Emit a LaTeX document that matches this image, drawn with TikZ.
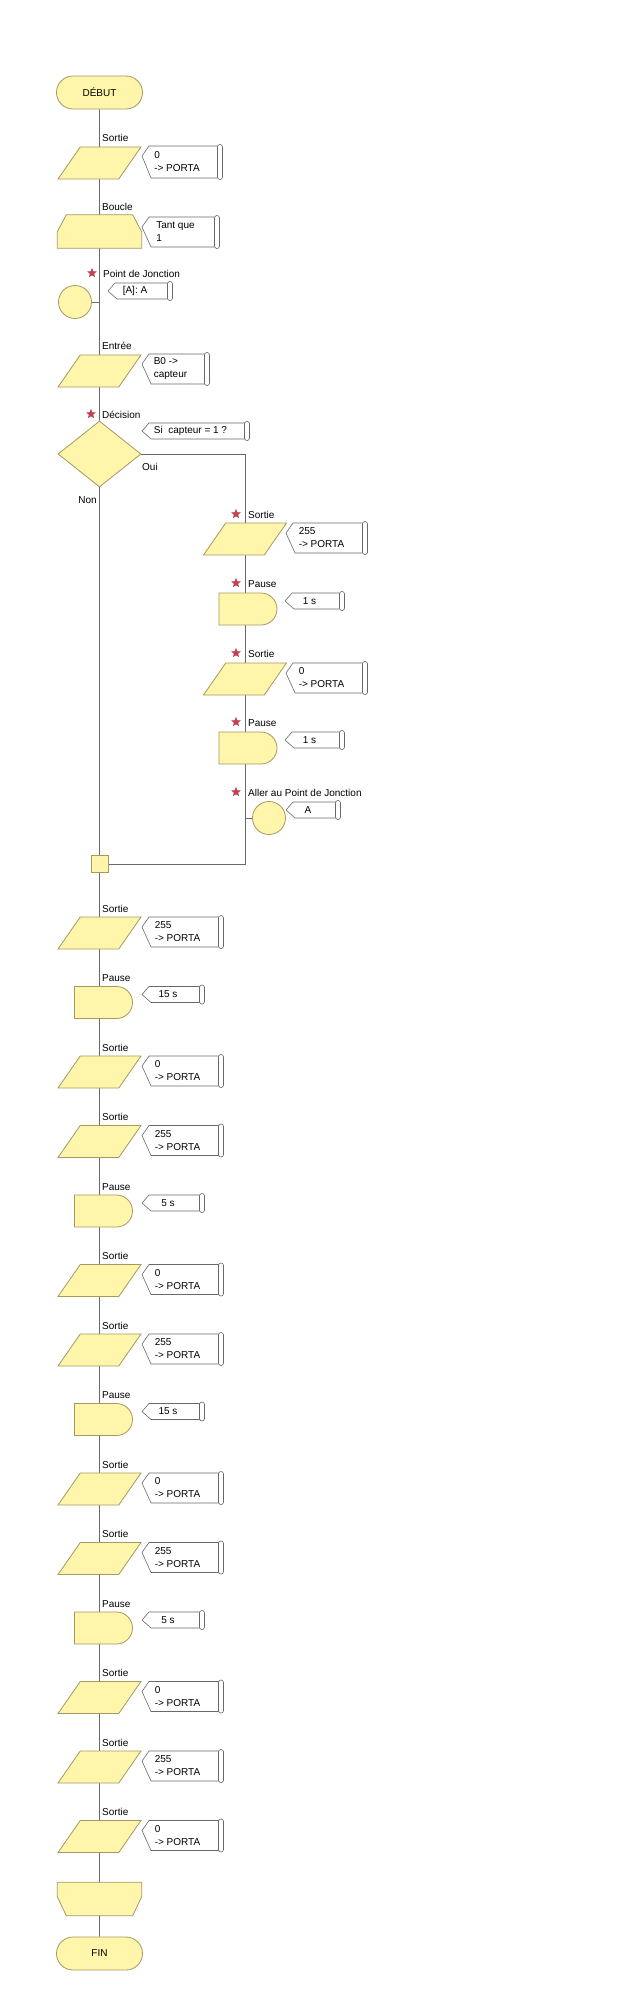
\documentclass[tikz,border=0pt]{standalone}
\usepackage{fontspec}
\setmainfont{Liberation Sans}
\usetikzlibrary{positioning, shapes.geometric, shapes.misc, backgrounds, calc}

\definecolor{boxfill}{RGB}{255,246,172}
\definecolor{boxedge}{RGB}{165,152,96}
\definecolor{flowline}{RGB}{105,105,105}
\definecolor{starred}{RGB}{205,62,78}

% commentaire a droite d'un bloc : nom, x pointe, y haut, largeur, hauteur, texte
\newcommand{\remark}[6]{%
  \node[remarktext] (#1) at (#2+#4/2-4,#3+#5/2) {#6};
  \draw[remarkline] (#2+#4,#3) -- (#2+7,#3) -- (#2,{#3+min(10,#5/2)}) -- (#2+9,#3+#5) -- (#2+#4,#3+#5);
  \draw[remarkline, fill=white, rounded corners=2.4pt] (#2+#4-2.5,#3-1.5) rectangle (#2+#4+2.5,#3+#5+1.5);
}

\begin{document}
\begin{tikzpicture}[x=1pt, y=-1pt, font=\fontsize{10}{13}\selectfont,
    flow/.style={draw=boxedge, fill=boxfill, line width=0.8pt, inner sep=0pt},
    terminal/.style={flow, rounded rectangle, minimum width=86pt, minimum height=33pt},
    io/.style={flow, inner sep=1pt, trapezium, trapezium left angle=60, trapezium right angle=120,
      trapezium stretches=true, minimum width=83pt, minimum height=32pt},
    loopslot/.style={rectangle, inner sep=0pt, minimum width=84pt, minimum height=33pt},
    junction/.style={flow, circle, minimum size=33pt},
    decision/.style={flow, diamond, minimum width=83pt, minimum height=66pt},
    pause/.style={flow, rounded rectangle, rounded rectangle left arc=none,
      minimum width=58pt, minimum height=32pt},
    merge/.style={flow, rectangle, minimum size=17pt},
    steplabel/.style={anchor=base west, inner sep=0pt},
    starmark/.style={star, star points=5, star point ratio=2.3, fill=starred,
      draw=starred!80!black, line width=0.3pt, minimum size=9pt, inner sep=0pt},
    remarktext/.style={align=left, inner sep=0pt},
    remarkline/.style={draw=flowline, line width=0.6pt},
    link/.style={draw=flowline, line width=0.8pt}]
    \useasboundingbox (0,0) rectangle (644,2000);

    % debut, boucle et jonction
    \node[terminal] (debut) at (99.5,92.5) {DÉBUT};
    \node[steplabel] (l-s0) at (102,141) {Sortie};
    \node[io] (s0) at (99.5,163) {};
    \remark{c-s0}{142}{146}{78}{32}{0\\-> PORTA}
    \node[steplabel] (l-loop) at (102,210) {Boucle};
    \node[loopslot] (loop) at (99.5,231.5) {};
    \draw[flow] (loop.south west) -- ($(loop.north west)+(0,17)$) -- ($(loop.north west)+(9,0)$)
        -- ($(loop.north east)+(-9,0)$) -- ($(loop.north east)+(0,17)$) -- (loop.south east) -- cycle;
    \remark{c-loop}{142}{217}{75}{30}{Tant que\\1}
    \node[starmark] (st-jonc) at (92,273) {};
    \node[steplabel] (l-jonc) at (103,277) {Point de Jonction};
    \node[junction] (jonc) at (75,302) {};
    \remark{c-jonc}{108}{283}{62}{16}{[A]: A}
    \node[steplabel] (l-entree) at (102,349) {Entrée};
    \node[io] (entree) at (99.5,371) {};
    \remark{c-entree}{142}{354}{65}{30}{B0 ->\\capteur}

    % decision
    \node[starmark] (st-test) at (91,414) {};
    \node[steplabel] (l-test) at (102,418) {Décision};
    \node[decision] (test) at (99.5,454) {};
    \remark{c-test}{142}{423}{105}{16}{Si\ \ capteur = 1 ?}
    \node[anchor=base west, inner sep=0pt] (oui) at (142,470) {Oui};
    \node[anchor=base east, inner sep=0pt] (non) at (97,503) {Non};

    % branche Oui
    \node[starmark] (st-r1) at (236,514) {};
    \node[steplabel] (l-r1) at (248,518) {Sortie};
    \node[io] (r1) at (245,539) {};
    \remark{c-r1}{286}{523}{79}{30}{255\\-> PORTA}
    \node[starmark] (st-r2) at (236,583) {};
    \node[steplabel] (l-r2) at (248,587) {Pause};
    \node[pause] (r2) at (248,609) {};
    \remark{c-r2}{285}{593}{57}{16}{1 s}
    \node[starmark] (st-r3) at (236,653) {};
    \node[steplabel] (l-r3) at (248,657) {Sortie};
    \node[io] (r3) at (245,679) {};
    \remark{c-r3}{286}{663}{79}{30}{0\\-> PORTA}
    \node[starmark] (st-r4) at (236,722) {};
    \node[steplabel] (l-r4) at (248,726) {Pause};
    \node[pause] (r4) at (248,748) {};
    \remark{c-r4}{285}{732}{57}{16}{1 s}
    \node[starmark] (st-aller) at (236,792) {};
    \node[steplabel] (l-aller) at (248,796) {Aller au Point de Jonction};
    \node[junction] (aller) at (269,818) {};
    \remark{c-aller}{286}{802}{52}{16}{A}
    \coordinate (retour) at (245,864);
    \node[merge] (fusion) at (99.5,864) {};

    % sequence principale
    \node[steplabel] (l-o1) at (102,912) {Sortie};
    \node[io] (o1) at (99.5,933) {};
    \remark{c-o1}{142}{917}{79}{30}{255\\-> PORTA}
    \node[steplabel] (l-o2) at (102,981.5) {Pause};
    \node[pause] (o2) at (103.5,1002.5) {};
    \remark{c-o2}{142}{986.5}{60}{16}{15 s}
    \node[steplabel] (l-o3) at (102,1051) {Sortie};
    \node[io] (o3) at (99.5,1072) {};
    \remark{c-o3}{142}{1056}{79}{30}{0\\-> PORTA}
    \node[steplabel] (l-o4) at (102,1120.5) {Sortie};
    \node[io] (o4) at (99.5,1141.5) {};
    \remark{c-o4}{142}{1125.5}{79}{30}{255\\-> PORTA}
    \node[steplabel] (l-o5) at (102,1190) {Pause};
    \node[pause] (o5) at (103.5,1211) {};
    \remark{c-o5}{142}{1195}{60}{16}{5 s}
    \node[steplabel] (l-o6) at (102,1259.5) {Sortie};
    \node[io] (o6) at (99.5,1280.5) {};
    \remark{c-o6}{142}{1264.5}{79}{30}{0\\-> PORTA}
    \node[steplabel] (l-o7) at (102,1329) {Sortie};
    \node[io] (o7) at (99.5,1350) {};
    \remark{c-o7}{142}{1334}{79}{30}{255\\-> PORTA}
    \node[steplabel] (l-o8) at (102,1398.5) {Pause};
    \node[pause] (o8) at (103.5,1419.5) {};
    \remark{c-o8}{142}{1403.5}{60}{16}{15 s}
    \node[steplabel] (l-o9) at (102,1468) {Sortie};
    \node[io] (o9) at (99.5,1489) {};
    \remark{c-o9}{142}{1473}{79}{30}{0\\-> PORTA}
    \node[steplabel] (l-o10) at (102,1537.5) {Sortie};
    \node[io] (o10) at (99.5,1558.5) {};
    \remark{c-o10}{142}{1542.5}{79}{30}{255\\-> PORTA}
    \node[steplabel] (l-o11) at (102,1607) {Pause};
    \node[pause] (o11) at (103.5,1628) {};
    \remark{c-o11}{142}{1612}{60}{16}{5 s}
    \node[steplabel] (l-o12) at (102,1676.5) {Sortie};
    \node[io] (o12) at (99.5,1697.5) {};
    \remark{c-o12}{142}{1681.5}{79}{30}{0\\-> PORTA}
    \node[steplabel] (l-o13) at (102,1746) {Sortie};
    \node[io] (o13) at (99.5,1767) {};
    \remark{c-o13}{142}{1751}{79}{30}{255\\-> PORTA}
    \node[steplabel] (l-o14) at (102,1815.5) {Sortie};
    \node[io] (o14) at (99.5,1836.5) {};
    \remark{c-o14}{142}{1820.5}{79}{30}{0\\-> PORTA}
    \node[loopslot] (finboucle) at (99.5,1899) {};
    \draw[flow] (finboucle.north west) -- ($(finboucle.south west)+(0,-19)$) -- ($(finboucle.south west)+(9,0)$)
        -- ($(finboucle.south east)+(-9,0)$) -- ($(finboucle.south east)+(0,-19)$) -- (finboucle.north east) -- cycle;
    \node[terminal] (fin) at (99.5,1953.5) {FIN};

    % liaisons, derriere les blocs
    \begin{scope}[on background layer]
        \draw[link] (debut) -- (test);
        \draw[link] (test) -- (fusion);
        \draw[link] (fusion) -- (fin);
        \draw[link] (test.east) -| (retour) -- (fusion);
        \draw[link] (jonc.east) -- (jonc.east -| debut);
        \draw[link] (aller.west) -- (aller.west -| retour);
    \end{scope}
\end{tikzpicture}
\end{document}
